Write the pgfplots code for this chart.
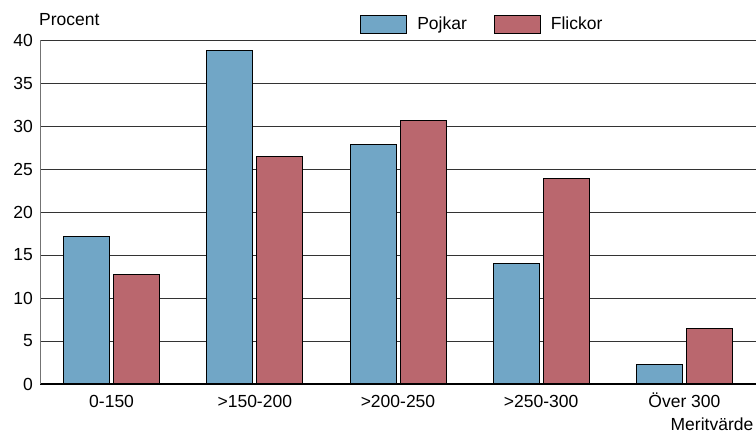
\documentclass[border=0pt]{standalone}
\usepackage{fontspec}
\setmainfont{Liberation Sans}
\usepackage{pgfplots}
\pgfplotsset{compat=1.18}
\definecolor{pblue}{HTML}{71A6C6}
\definecolor{pred}{HTML}{BA676E}
\begin{document}
\begin{tikzpicture}[font=\fontsize{17.5}{21}\selectfont]
\useasboundingbox (0,0) rectangle (756pt,433pt);
\begin{axis}[
  at={(40pt,49pt)}, anchor=south west,
  scale only axis, width=716pt, height=344pt,
  xmin=-0.5, xmax=4.5, ymin=0, ymax=40,
  ybar=4pt, bar width=46pt,
  axis x line*=bottom, axis y line*=left,
  x axis line style={black, line width=1.5pt, -},
  y axis line style={black!55, line width=1pt, -},
  xtick={0,1,2,3,4},
  xticklabels={0-150,>150-200,>200-250,>250-300,Över 300},
  ytick={0,5,...,40},
  major tick length=0pt,
  ymajorgrids, major grid style={black!80, line width=0.8pt},
  /pgf/number format/assume math mode=true,
  xticklabel style={anchor=base, inner sep=0pt, yshift=-24pt},
  yticklabel style={anchor=east, inner sep=0pt, xshift=-7pt},
  legend columns=2,
  legend style={draw=none, fill=none, at={(0.447,1.0465)}, anchor=west, inner sep=0pt,
    /tikz/every even column/.append style={column sep=27pt},
    nodes={inner sep=0pt, anchor=west}},
  legend image code/.code={\draw[#1] (0pt,-9pt) rectangle (46pt,9pt);},
  legend cell align=left,
]
\addplot[fill=pblue, draw=black, line width=1pt] coordinates {(0,17.1) (1,38.8) (2,27.8) (3,14.0) (4,2.3)};
\addplot[fill=pred, draw=black, line width=1pt] coordinates {(0,12.7) (1,26.5) (2,30.6) (3,23.9) (4,6.4)};
\legend{\hspace{10pt}Pojkar, \hspace{10pt}Flickor}
\end{axis}
\node[anchor=west, inner sep=0pt] at (39pt,413pt) {Procent};
\node[anchor=east, inner sep=0pt] at (753.5pt,9pt) {Meritvärde};
\end{tikzpicture}
\end{document}
